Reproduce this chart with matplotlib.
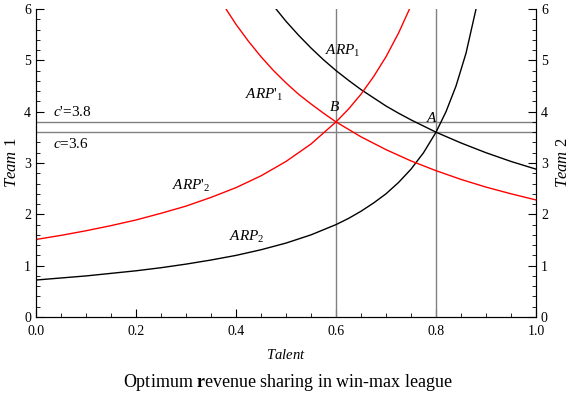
import matplotlib.pyplot as plt
from matplotlib.ticker import MultipleLocator

plt.rcParams['font.family'] = 'Liberation Serif'
plt.rcParams['mathtext.fontset'] = 'custom'
plt.rcParams['mathtext.rm'] = 'Liberation Serif'
plt.rcParams['mathtext.it'] = 'Liberation Serif:italic'
plt.rcParams['mathtext.bf'] = 'Liberation Serif:bold'

# curves (talent, value)
arp2_x = [0.0, 0.05, 0.1, 0.15, 0.2, 0.25, 0.3, 0.35, 0.4, 0.45, 0.5, 0.55, 0.6,
          0.625, 0.65, 0.675, 0.7, 0.725, 0.75, 0.775, 0.8, 0.82, 0.84, 0.86, 0.88]
arp2_y = [0.72, 0.76, 0.80, 0.85, 0.90, 0.96, 1.03, 1.11, 1.20, 1.31, 1.44, 1.60, 1.80,
          1.92, 2.06, 2.22, 2.40, 2.62, 2.88, 3.20, 3.60, 4.00, 4.50, 5.14, 6.00]
arp2p_x = [0.0, 0.05, 0.1, 0.15, 0.2, 0.25, 0.3, 0.35, 0.4, 0.45, 0.5, 0.55, 0.6,
           0.625, 0.65, 0.675, 0.7, 0.725, 0.747]
arp2p_y = [1.51, 1.59, 1.68, 1.78, 1.89, 2.02, 2.16, 2.33, 2.52, 2.75, 3.03, 3.37, 3.80,
           4.05, 4.34, 4.68, 5.07, 5.53, 6.00]
arp1_x = [0.48, 0.5, 0.525, 0.55, 0.575, 0.6, 0.625, 0.65, 0.675, 0.7, 0.725, 0.75,
          0.775, 0.8, 0.85, 0.9, 0.95, 1.0]
arp1_y = [6.00, 5.76, 5.49, 5.24, 5.01, 4.80, 4.61, 4.43, 4.27, 4.11, 3.97, 3.84,
          3.72, 3.60, 3.39, 3.20, 3.03, 2.88]
arp1p_x = [0.38, 0.4, 0.425, 0.45, 0.475, 0.5, 0.525, 0.55, 0.575, 0.6, 0.65, 0.7,
           0.75, 0.8, 0.85, 0.9, 0.95, 1.0]
arp1p_y = [6.00, 5.70, 5.37, 5.07, 4.80, 4.56, 4.34, 4.15, 3.97, 3.80, 3.51, 3.26,
           3.04, 2.85, 2.68, 2.53, 2.40, 2.28]

c_levels = [3.8, 3.6]
talent_marks = [0.6, 0.8]

fig = plt.figure(figsize=(5.76, 3.96), dpi=100)
ax = fig.add_axes([0.0625, 0.1995, 0.8681, 0.7778])

for c in c_levels:
    ax.axhline(c, color='#808080', lw=1)
for t in talent_marks:
    ax.axvline(t, color='#808080', lw=1)

ax.plot(arp1_x, arp1_y, color='black', lw=1)
ax.plot(arp2_x, arp2_y, color='black', lw=1)
ax.plot(arp1p_x, arp1p_y, color='red', lw=1)
ax.plot(arp2p_x, arp2p_y, color='red', lw=1)

fs = 11
ax.text(0.578, 5.18, r'$ARP_{\mathrm{1}}$', fontsize=fs, va='center')
ax.text(0.418, 4.32, r"$ARP$'$_{\mathrm{1}}$", fontsize=fs, va='center')
ax.text(0.272, 2.55, r"$ARP$'$_{\mathrm{2}}$", fontsize=fs, va='center')
ax.text(0.386, 1.56, r'$ARP_{\mathrm{2}}$', fontsize=fs, va='center')
ax.text(0.596, 4.09, r'$B$', fontsize=fs, ha='center', va='center')
ax.text(0.793, 3.88, r'$A$', fontsize=fs, ha='center', va='center')
ax.text(0.034, 4.0, r"$c$'=3.8", fontsize=fs, va='center')
ax.text(0.034, 3.37, r'$c$=3.6', fontsize=fs, va='center')

ax.set_xlim(0, 1)
ax.set_ylim(0, 6)
ax.spines['top'].set_visible(False)
ax.xaxis.set_major_locator(MultipleLocator(0.2))
ax.xaxis.set_minor_locator(MultipleLocator(0.05))
ax.yaxis.set_major_locator(MultipleLocator(1))
ax.yaxis.set_minor_locator(MultipleLocator(0.2))
ax.tick_params(which='both', direction='in', labelsize=10)
ax.tick_params(which='major', length=6)
ax.tick_params(which='minor', length=3)
ax.tick_params(axis='x', pad=6)
ax.xaxis.set_major_formatter(lambda v, p: f'{v:.1f}')
ax.set_xlabel(r'$Talent$', fontsize=10.5, labelpad=7)
ax.set_ylabel(r'$Team$ 1', fontsize=12, labelpad=3)

ax2 = ax.twinx()
ax2.set_ylim(0, 6)
ax2.spines['top'].set_visible(False)
ax2.yaxis.set_major_locator(MultipleLocator(1))
ax2.yaxis.set_minor_locator(MultipleLocator(0.2))
ax2.tick_params(which='both', direction='in', labelsize=10)
ax2.tick_params(which='major', length=6)
ax2.tick_params(which='minor', length=3)
ax2.set_ylabel(r'$Team$ 2', fontsize=12, labelpad=5)

fig.text(0.5, 0.035, r'Optimum $\mathbf{r}$evenue sharing in win-max league',
         fontsize=13, ha='center', va='center')

plt.savefig('out.png', dpi=100)
